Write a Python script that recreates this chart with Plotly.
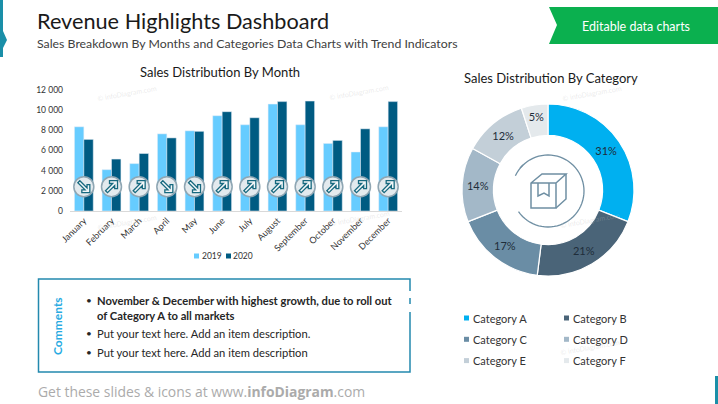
import numpy as np
import plotly.graph_objects as go

W, H = 718, 404
FONT = "Lato"

months = ["January", "February", "March", "April", "May", "June", "July",
          "August", "September", "October", "November", "December"]
sales_2019 = [8350, 4100, 4700, 7650, 7950, 9450, 8550, 10600, 8550, 6700, 5850, 8350]
sales_2020 = [7100, 5150, 5700, 7250, 7900, 9850, 9250, 10850, 10900, 7000, 8150, 10850]
y_ticks = [0, 2000, 4000, 6000, 8000, 10000, 12000]
y_tick_labels = ["0", "2 000", "4 000", "6 000", "8 000", "10 000", "12 000"]
trend_level = 2410

categories = ["Category A", "Category B", "Category C", "Category D", "Category E", "Category F"]
category_share = [31, 21, 17, 14, 12, 5]
category_colors = ["#00B0F0", "#4A6478", "#6A8DA5", "#A3B8C8", "#C3CFD8", "#E4E9EC"]

comments = ["<b>November & December with highest growth, due to roll out</b>",
            "<b>of Category A to all markets</b>",
            "Put your text here. Add an item description.",
            "Put your text here. Add an item description"]
comment_y = [300, 315, 333, 352]
bullet_y = [300, 333, 352]

COLOR_2019 = "#66CCFF"
COLOR_2020 = "#005B82"

# arrow outline in pixels around the marker centre, pointing up and right
ARROW = [(6, 6), (-2, 6), (-2, 3.2), (1.2, 3.2), (-6, -4), (-4, -6), (3.2, 1.2), (3.2, -2), (6, -2)]


# pixel position on the slide -> paper coordinates
def px(x):
    return x / W


def py(y):
    return 1 - y / H


def path(points, close=False):
    s = "M " + " L ".join(f"{px(x):.5f},{py(y):.5f}" for x, y in points)
    return s + (" Z" if close else "")


def text(fig, x, y, s, size=11, color="#262626", anchor="left", **kw):
    # annotations carry a little padding, so left aligned text is pulled back
    if anchor == "left":
        x -= 2.5
    fig.add_annotation(xref="paper", yref="paper", x=px(x), y=py(y), text=s, showarrow=False,
                       xanchor=anchor, yanchor="middle", font=dict(size=size, color=color, family=kw.pop("family", FONT)),
                       **kw)


def line(fig, points, color, width=1.5, fill=None, close=False):
    fig.add_shape(type="path", xref="paper", yref="paper", path=path(points, close),
                  line=dict(color=color, width=width), fillcolor=fill)


def square(fig, x, y, color, size=5):
    h = size / 2
    line(fig, [(x, y - h), (x + size, y - h), (x + size, y + h), (x, y + h)], color, 0, color, True)


fig = go.Figure()

fig.add_trace(go.Bar(x=months, y=sales_2019, name="2019", marker_color=COLOR_2019, showlegend=False))
fig.add_trace(go.Bar(x=months, y=sales_2020, name="2020", marker_color=COLOR_2020, showlegend=False))
fig.add_trace(go.Scatter(x=months, y=[trend_level] * len(months), mode="markers", showlegend=False,
                         marker=dict(size=20, color="#E3EAEE", line=dict(color="#8FA6B3", width=1.5))))

# trend arrows, direction comes from the two series
for i, (a, b) in enumerate(zip(sales_2019, sales_2020)):
    sign = 1 if b > a else -1
    arrow_path = "M " + " L ".join(f"{x},{sign * y}" for x, y in ARROW) + " Z"
    fig.add_shape(type="path", xref="x", yref="y", xsizemode="pixel", ysizemode="pixel",
                  xanchor=i, yanchor=trend_level, path=arrow_path,
                  fillcolor="#F2F6F8", line=dict(color="#17697F", width=1.3))

fig.add_trace(go.Pie(labels=categories, values=category_share, hole=0.635, sort=False, direction="clockwise",
                     rotation=0, showlegend=False, textinfo="percent", texttemplate="%{value}%",
                     textposition="inside", insidetextorientation="horizontal",
                     textfont=dict(size=11, color="#1F2D3A"),
                     marker=dict(colors=category_colors, line=dict(color="white", width=1.2)),
                     domain=dict(x=[px(548 - 86), px(548 + 86)], y=[py(190 + 86), py(190 - 86)])))

# header
line(fig, [(0, 0), (3, 0), (3, 31), (7, 40), (3, 48), (3, 57), (0, 57)], "#1A8FA8", 0, "#1A8FA8", True)
line(fig, [(549, 7), (718, 7), (718, 44), (549, 44), (557, 25)], "#0BB04F", 0, "#0BB04F", True)
line(fig, [(715, 376), (718, 376), (718, 404), (715, 404)], "#1A8FA8", 0, "#1A8FA8", True)
text(fig, 37, 21, "Revenue Highlights Dashboard", size=21.7, color="#1A1A1A")
text(fig, 37, 44, "Sales Breakdown By Months and Categories Data Charts with Trend Indicators", size=12.3, color="#404040")
text(fig, 636, 26, "Editable data charts", size=12.5, color="white", anchor="center")

# chart titles
text(fig, 220, 72, "Sales Distribution By Month", size=13, color="#1A1A1A", anchor="center")
text(fig, 551, 78, "Sales Distribution By Category", size=13, color="#1A1A1A", anchor="center")

# icon in the donut
t = np.radians(np.arange(-65, 236, 5))
line(fig, list(zip(548 + 36 * np.sin(t), 191 - 36 * np.cos(t))), "#6F8FA3", 1.3)
line(fig, [(520, 168), (523, 165)], "#6F8FA3", 1.3)
box = [[(531, 183), (556, 183), (556, 208), (531, 208), (531, 183), (542, 174), (566, 174), (556, 183)],
       [(566, 174), (566, 199), (556, 208)],
       [(538, 183), (538, 196), (544, 193), (549, 196), (549, 183)]]
for b in box:
    line(fig, b, "#6F8FA3", 1.5)

# month chart legend
square(fig, 194, 256, COLOR_2019)
text(fig, 202, 256, "2019", size=8.5, color="#333333")
square(fig, 226, 256, COLOR_2020)
text(fig, 233, 256, "2020", size=8.5, color="#333333")

# category legend
for i, (c, col) in enumerate(zip(categories, category_colors)):
    lx = 464 if i % 2 == 0 else 564
    ly = 318 + 21.3 * (i // 2)
    square(fig, lx, ly, col)
    text(fig, lx + 9, ly, c, size=11, color="#333333")

# comments box
fig.add_shape(type="rect", xref="paper", yref="paper", x0=px(38.5), x1=px(410), y0=py(372), y1=py(279),
              line=dict(color="#2389AE", width=1.5))
line(fig, [(410, 291), (410, 298)], "white", 2.5)
line(fig, [(410, 304), (410, 312)], "white", 2.5)
text(fig, 57, 326, "<b>Comments</b>", size=12, color="#29ABE2", anchor="center", textangle=-90)
for y in bullet_y:
    text(fig, 86, y, "•", size=10)
for y, s in zip(comment_y, comments):
    text(fig, 97, y, s, size=11.2)

# footer
text(fig, 38, 391, "Get these slides & icons at www.<b>infoDiagram</b>.com", size=13.9, color="#ABABAB",
     family="Open Sans")

# watermarks
for x, y in [(127, 93), (359, 92), (127, 222), (360, 218), (592, 93), (590, 220), (590, 347)]:
    text(fig, x, y, "© infoDiagram.com", size=7, color="rgba(190,190,190,0.3)", anchor="center", textangle=-10)

fig.update_layout(
    width=W, height=H, margin=dict(l=0, r=0, t=0, b=0, autoexpand=False), paper_bgcolor="white", plot_bgcolor="white",
    barmode="group", bargap=0.32, bargroupgap=0, font=dict(family=FONT, size=9, color="#333333"),
    xaxis=dict(domain=[px(70), px(402)], range=[-0.5, 11.5], tickangle=-45, showgrid=False, showline=True,
               linecolor="#D9D9D9", ticks="", tickfont=dict(size=9), automargin=False),
    yaxis=dict(domain=[py(211), py(90)], range=[0, 12000], tickvals=y_ticks, ticktext=y_tick_labels,
               showgrid=False, zeroline=False, ticks="", tickfont=dict(size=8.5), ticklabelstandoff=6,
               automargin=False),
)

fig.write_html("out.html", config=dict(displayModeBar=False), post_script="document.body.style.margin='0';")
